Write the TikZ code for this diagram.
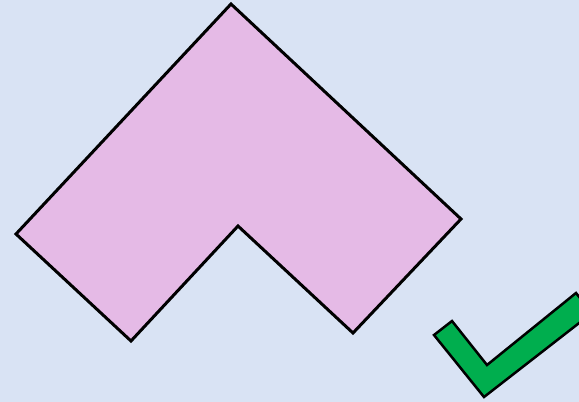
\documentclass[tikz,border=0pt]{standalone}
\usepackage{xcolor}
\definecolor{bgblue}{HTML}{D9E3F4}
\definecolor{shapepink}{HTML}{E5BAE6}
\definecolor{tickgreen}{HTML}{00AE4E}
\begin{document}
\begin{tikzpicture}[
  x=1pt, y=-1pt,
  % shape styles
  chevron/.style={draw=black, line width=3pt, fill=shapepink, line join=miter},
  tick/.style={draw=black, line width=2.5pt, fill=tickgreen, line join=miter}
]

% Background
\fill[bgblue] (0,0) rectangle (579,402);
\clip (0,0) rectangle (579,402);

% Arrow-like chevron
\draw[chevron] (231,4) -- (461,219) -- (353,333) -- (238,226) -- (131,341) -- (16,234) -- cycle;

% Check mark
\draw[tick] (434,335) -- (452,321) -- (487,365) -- (576,293) -- (592,313) -- (484,397) -- cycle;

\end{tikzpicture}
\end{document}
